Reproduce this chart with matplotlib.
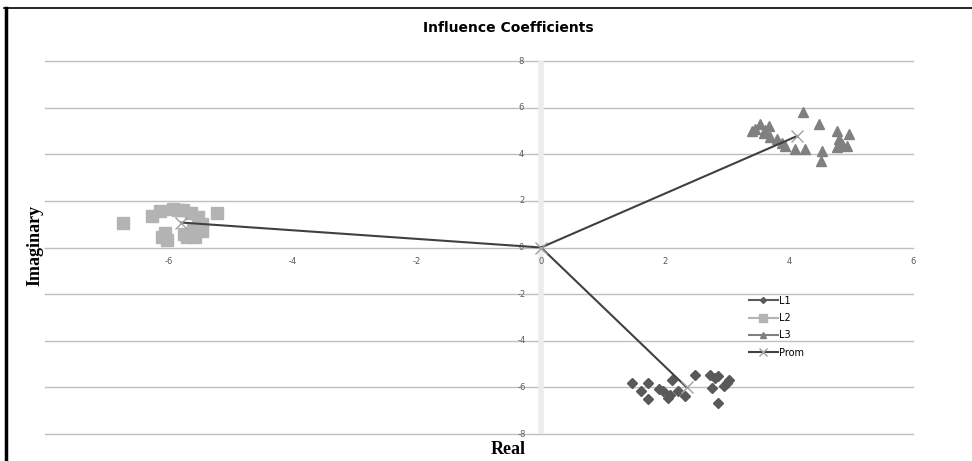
#!/usr/bin/env python3
"""
Recreate the 'Influence Coefficients' scatter chart (complex plane).
"""

import matplotlib.pyplot as plt
from matplotlib.lines import Line2D

# L1 cluster (diamonds)
l1_real = [1.46, 1.73, 1.62, 1.73, 1.97, 2.08, 2.21, 2.11, 2.32, 2.48, 2.73,
           2.86, 3.00, 3.04, 2.75, 2.86, 1.90, 2.05, 2.95, 2.80]
l1_imag = [-5.81, -5.81, -6.17, -6.52, -6.17, -6.31, -6.17, -5.67, -6.38, -5.45,
           -5.45, -5.52, -5.81, -5.67, -6.02, -6.67, -6.05, -6.45, -5.95, -5.60]

# L2 cluster (squares)
l2_real = [-6.74, -6.28, -6.15, -5.23, -5.94, -5.78, -5.64, -5.54, -5.47, -5.47,
           -5.58, -5.71, -6.07, -6.04, -6.12, -5.75, -5.85, -5.62]
l2_imag = [1.03, 1.33, 1.55, 1.46, 1.67, 1.63, 1.50, 1.29, 0.99, 0.69,
           0.47, 0.43, 0.64, 0.34, 0.47, 0.56, 1.60, 0.80]

# L3 cluster (triangles)
l3_real = [4.22, 4.48, 4.78, 4.97, 4.80, 4.86, 4.78, 4.94, 4.53, 4.52, 4.26,
           4.10, 3.94, 3.45, 3.53, 3.67, 3.59, 3.69, 3.80, 3.89, 3.40, 3.62]
l3_imag = [5.81, 5.28, 4.99, 4.85, 4.64, 4.42, 4.29, 4.35, 4.13, 3.70, 4.21,
           4.21, 4.35, 5.10, 5.28, 5.20, 4.93, 4.76, 4.64, 4.50, 4.98, 5.05]

# Average ("Prom") of each cluster, joined to the origin
prom_real = [-5.80, 4.13, 2.35]
prom_imag = [1.07, 4.78, -6.00]

x_ticks = [-6, -4, -2, 0, 2, 4, 6]
y_ticks = [-8, -6, -4, -2, 0, 2, 4, 6, 8]


def main():
    fig = plt.figure(figsize=(9.72, 4.61), dpi=100)
    W, H = 972, 461

    # Plot area in pixels: x 45..913, y 61..434
    ax = fig.add_axes([45 / W, 1 - 434 / H, (913 - 45) / W, (434 - 61) / H])
    ax.set_xlim(-8, 6)
    ax.set_ylim(-8, 8)

    # Horizontal gridlines
    for y in y_ticks:
        ax.axhline(y, color="#bfbfbf", linewidth=1.0, zorder=0, clip_on=False)

    # Light vertical axis at x = 0
    ax.axvline(0, color="#ececec", linewidth=4, zorder=0)

    # Hide default spines / ticks
    for s in ax.spines.values():
        s.set_visible(False)
    ax.set_xticks([])
    ax.set_yticks([])

    # Tick labels drawn next to the axes
    for x in x_ticks:
        ax.annotate(str(x), (x, 0), textcoords="offset points", xytext=(0, -10),
                    ha="center", va="center", fontsize=6, color="#595959")
    for y in y_ticks:
        ax.annotate(str(y), (0, y), textcoords="offset points", xytext=(-14, 0),
                    ha="center", va="center", fontsize=6, color="#595959")

    # Lines from origin to the averages
    for px, py in zip(prom_real, prom_imag):
        ax.plot([0, px], [0, py], color="#404040", linewidth=1.5, zorder=3)
    ax.plot(prom_real + [0], prom_imag + [0], linestyle="none", marker="x",
            markersize=8, color="#a0a0a0", markeredgewidth=1.0, zorder=4)

    # Clusters
    ax.plot(l1_real, l1_imag, linestyle="none", marker="D", markersize=5,
            color="#595959", zorder=2)
    ax.plot(l2_real, l2_imag, linestyle="none", marker="s", markersize=8,
            color="#b3b3b3", zorder=2)
    ax.plot(l3_real, l3_imag, linestyle="none", marker="^", markersize=7,
            color="#808080", zorder=2)

    # Legend
    handles = [
        Line2D([], [], color="#595959", marker="D", markersize=3, linewidth=1.5),
        Line2D([], [], color="#b3b3b3", marker="s", markersize=6, linewidth=1.5),
        Line2D([], [], color="#808080", marker="^", markersize=5, linewidth=1.5),
        Line2D([], [], color="#404040", marker="x", markersize=6,
               markeredgecolor="#a0a0a0", linewidth=1.5),
    ]
    fig.legend(handles, ["L1", "L2", "L3", "Prom"], loc="upper left",
               bbox_to_anchor=(745 / W, 1 - 292 / H), frameon=False,
               fontsize=7, handlelength=3.0, handletextpad=0.1,
               labelspacing=0.75, borderaxespad=0)

    # Title and axis labels
    fig.text(508 / W, 1 - 28 / H, "Influence Coefficients", ha="center",
             va="center", fontsize=10, fontweight="bold")
    fig.text(508 / W, 1 - 449 / H, "Real", ha="center", va="center",
             fontsize=13, fontweight="bold", family="Liberation Serif")
    fig.text(35 / W, 1 - 245 / H, "Imaginary", ha="center", va="center",
             rotation=90, fontsize=13, fontweight="bold",
             family="Liberation Serif")

    # Frame lines: thick left edge, thin top edge
    fig.add_artist(Line2D([5.5 / W, 5.5 / W], [0, 1 - 8 / H], color="black",
                          linewidth=2.5))
    fig.add_artist(Line2D([4 / W, 1], [1 - 8 / H, 1 - 8 / H], color="black",
                          linewidth=1.2))

    fig.savefig("out.png", dpi=100)


if __name__ == "__main__":
    main()
